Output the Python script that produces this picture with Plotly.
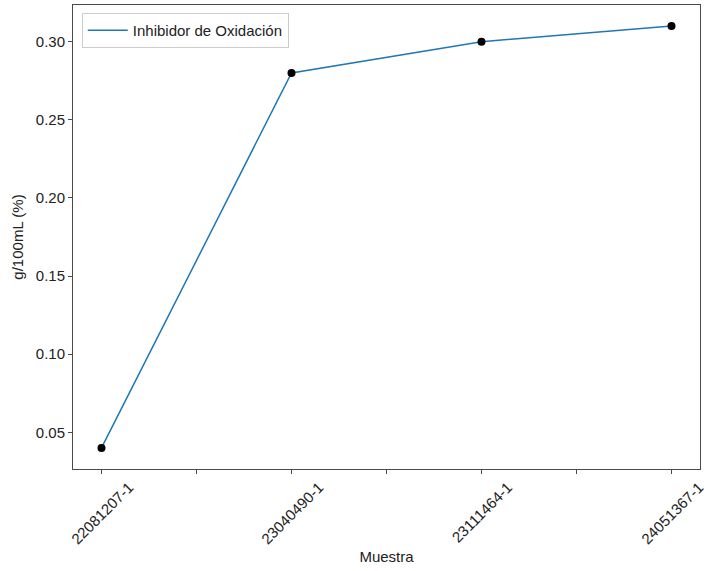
import plotly.graph_objects as go

muestras = ["22081207-1", "23040490-1", "23111464-1", "24051367-1"]
valores = [0.04, 0.28, 0.30, 0.31]
serie = "Inhibidor de Oxidación"
y_ticks = [0.05, 0.10, 0.15, 0.20, 0.25, 0.30]

xs = list(range(len(muestras)))
tickvals = [i * 0.5 for i in range(2 * len(muestras) - 1)]

font = "Liberation Sans, Arial, sans-serif"
txt = "#222222"
fig = go.Figure()
fig.add_trace(go.Scatter(x=xs, y=valores, mode="lines", name=serie,
                         line=dict(color="#1f77b4", width=1.5)))
fig.add_trace(go.Scatter(x=xs, y=valores, mode="markers", showlegend=False,
                         marker=dict(color="black", size=8)))

axis_common = dict(showgrid=False, zeroline=False, showline=True, mirror=True,
                   linecolor="#4a4a4a", linewidth=1, ticks="outside", ticklen=4,
                   tickcolor="#4a4a4a", tickfont=dict(size=15, color=txt),
                   automargin=False)
fig.update_xaxes(range=[-0.15, 3.15], tickvals=tickvals, ticktext=[""] * len(tickvals),
                 title=dict(text="Muestra", font=dict(size=15, color=txt), standoff=75),
                 **axis_common)
fig.update_yaxes(range=[0.0265, 0.3235], tickvals=y_ticks,
                 ticktext=[f"{v:.2f}" for v in y_ticks],
                 title=dict(text="g/100mL (%)", font=dict(size=15, color=txt), standoff=8),
                 **axis_common)

for x, m in zip(xs, muestras):
    fig.add_annotation(x=x, xref="x", y=0, yref="paper", text=m, showarrow=False,
                       textangle=-45, xanchor="center", yanchor="top", yshift=-7,
                       font=dict(size=15, color=txt))

fig.update_layout(width=712, height=571, margin=dict(l=73, r=12, t=5, b=102),
                  plot_bgcolor="white", paper_bgcolor="white",
                  font=dict(family=font),
                  legend=dict(x=0.014, y=0.983, xanchor="left", yanchor="top",
                              bordercolor="#cccccc", borderwidth=1, bgcolor="white",
                              itemwidth=40,
                              font=dict(size=15, color=txt)))
fig.write_html("out.html", config={"displayModeBar": False},
               post_script="document.body.style.margin='0';document.body.style.padding='0';")
